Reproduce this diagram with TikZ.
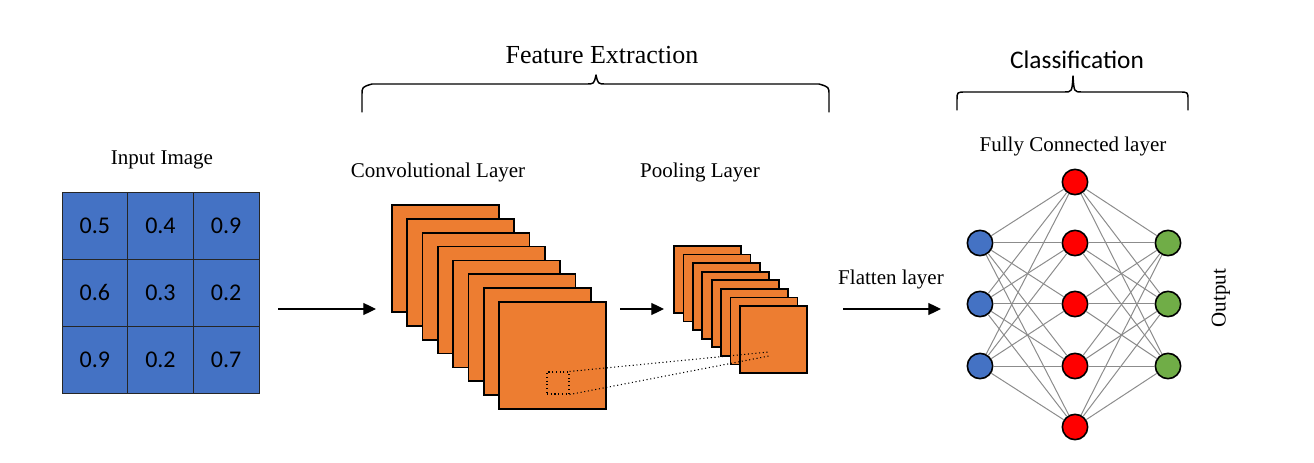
\documentclass[tikz,border=0pt]{standalone}
\usepackage{fontspec}
\setmainfont{Liberation Serif}
\newfontfamily\calib{Carlito}
\usetikzlibrary{arrows.meta}
\definecolor{cblue}{HTML}{4472C4}
\definecolor{corange}{HTML}{ED7D31}
\definecolor{cred}{HTML}{FF0000}
\definecolor{cgreen}{HTML}{70AD47}
\definecolor{cgray}{HTML}{8C8C8C}
\begin{document}
\begin{tikzpicture}[x=0.75pt,y=-0.75pt,
  cell/.style={draw=black!85, line width=0.7pt, fill=cblue, minimum width=49.25pt, minimum height=50.25pt, inner sep=0pt, font=\calib\fontsize{18}{20}\selectfont},
  convsq/.style={draw=black, line width=1.3pt, fill=corange, minimum size=80.25pt, inner sep=0pt},
  poolsq/.style={draw=black, line width=1.3pt, fill=corange, minimum size=50.25pt, inner sep=0pt},
  lbl/.style={font=\fontsize{15.75}{18}\selectfont, inner sep=1pt},
  neuron/.style={circle, draw=black, line width=1.2pt, minimum size=19pt, inner sep=0pt},
  flowarrow/.style={-{Triangle[length=9.5pt,width=9pt]}, line width=0.9pt, black},
  edge/.style={cgray, line width=0.75pt},
  bracepath/.style={line width=1.1pt, black, line cap=round, line join=round}
]
\useasboundingbox (0,0) rectangle (1314,463);

% titles and braces
\node[font=\fontsize{19.5}{22}\selectfont] (fe) at (602,55) {Feature Extraction};
\node[font=\calib\fontsize{19}{22}\selectfont] (cl) at (1077,60) {Classification};
\draw[bracepath] (362,112) -- (362,95) .. controls (362,87) .. (372,84) -- (586,84) .. controls (594,84) .. (596,75) .. controls (598,84) .. (606,84) -- (819,84) .. controls (829,87) .. (829,95) -- (829,112);
\draw[bracepath] (957,110) -- (957,100) .. controls (957,92) .. (966,92) -- (1064,92) .. controls (1072,92) .. (1073,76) .. controls (1074,92) .. (1082,92) -- (1179,92) .. controls (1188,92) .. (1188,100) -- (1188,110);

% input image
\node[lbl] (inlbl) at (162,160) {Input Image};
\foreach \r/\row in {0/{0.5,0.4,0.9},1/{0.6,0.3,0.2},2/{0.9,0.2,0.7}} {
  \foreach \v [count=\c from 0] in \row {
    \node[cell] (cell\r\c) at (94.8+65.67*\c, 225.5+67*\r) {\v};
  }
}

% convolutional layer
\node[lbl] (convlbl) at (438,172) {Convolutional Layer};
\foreach \i in {0,...,7} {
  \node[convsq] (conv\i) at (445.5+15.3*\i, 258.5+13.86*\i) {};
}
\node[draw=black, dotted, line width=0.8pt, minimum size=16.5pt, inner sep=0pt] (win) at (558,383) {};

% pooling layer
\node[lbl] (poollbl) at (700,172) {Pooling Layer};
\foreach \i in {0,...,7} {
  \node[poolsq] (pool\i) at (707.5+9.43*\i, 279.5+8.57*\i) {};
}
\coordinate (t1) at (769,352);
\coordinate (t2) at (769,356);
\draw[dotted, line width=0.8pt] (win.north east) -- (t1);
\draw[dotted, line width=0.8pt] (win.south east) -- (t2);

% arrows
\coordinate (a1s) at (278,309); \coordinate (a1e) at (376,309);
\coordinate (a2s) at (620,309); \coordinate (a2e) at (664,309);
\coordinate (a3s) at (843,309); \coordinate (a3e) at (941,309);
\draw[flowarrow] (a1s) -- (a1e);
\draw[flowarrow] (a2s) -- (a2e);
\draw[flowarrow] (a3s) -- (a3e);
\node[lbl] (flbl) at (891,279) {Flatten layer};

% fully connected network
\node[lbl] (fclbl) at (1073,146) {Fully Connected layer};
\foreach \i/\y in {1/243,2/304,3/366} {
  \node[neuron, fill=cblue] (in\i) at (980,\y) {};
  \node[neuron, fill=cgreen] (out\i) at (1168,\y) {};
}
\foreach \j/\y in {1/182,2/243,3/304,4/366,5/427} {
  \node[neuron, fill=cred] (h\j) at (1075,\y) {};
}
\foreach \i in {1,2,3} {
  \foreach \j in {1,...,5} {
    \draw[edge] (in\i) -- (h\j);
    \draw[edge] (h\j) -- (out\i);
  }
}
\node[lbl, rotate=90] (outlbl) at (1221,298) {Output};
\end{tikzpicture}
\end{document}
